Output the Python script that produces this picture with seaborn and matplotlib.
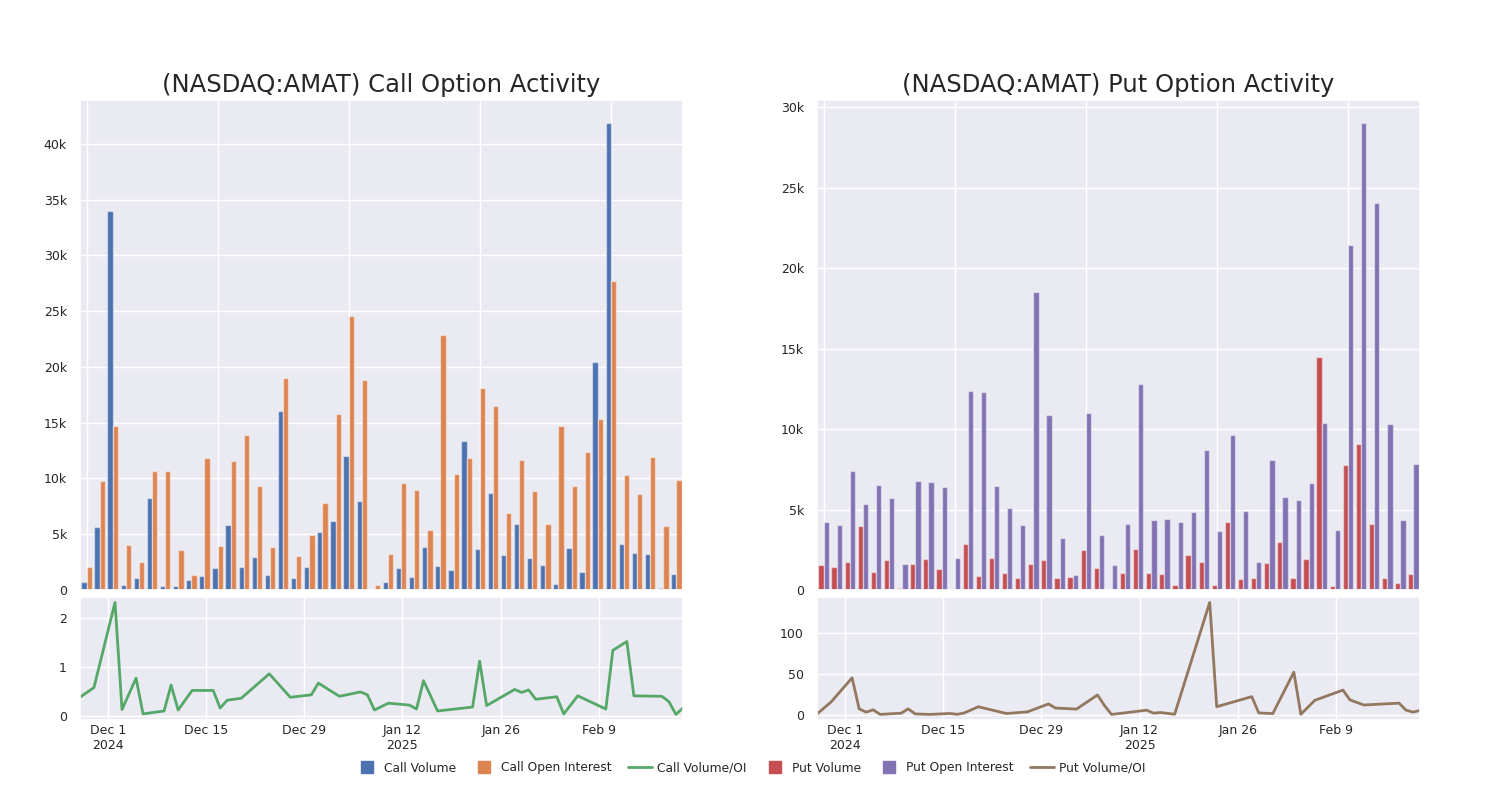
import matplotlib
matplotlib.use("Agg")
import matplotlib.pyplot as plt
from matplotlib.lines import Line2D
from matplotlib.ticker import FuncFormatter
import seaborn as sns
import pandas as pd

# trading days shown on both panels
dates = ["2024-11-27", "2024-11-29", "2024-12-02", "2024-12-03", "2024-12-04", "2024-12-05",
         "2024-12-06", "2024-12-09", "2024-12-10", "2024-12-11", "2024-12-13", "2024-12-16",
         "2024-12-17", "2024-12-18", "2024-12-20", "2024-12-24", "2024-12-27", "2024-12-30",
         "2024-12-31", "2025-01-03", "2025-01-06", "2025-01-07", "2025-01-08", "2025-01-10",
         "2025-01-13", "2025-01-14", "2025-01-15", "2025-01-17", "2025-01-22", "2025-01-23",
         "2025-01-24", "2025-01-28", "2025-01-29", "2025-01-30", "2025-01-31", "2025-02-03",
         "2025-02-04", "2025-02-06", "2025-02-10", "2025-02-11", "2025-02-13", "2025-02-14",
         "2025-02-18", "2025-02-19", "2025-02-20", "2025-02-21"]

call_volume = [720, 5630, 34000, 450, 1100, 8260, 330, 330, 870, 1230, 1980, 5870,
               2100, 2930, 1350, 16080, 1100, 2100, 5180, 6170, 11980, 7990, 55, 750,
               2000, 1200, 3860, 2160, 1800, 13350, 3650, 8650, 3170, 5900, 2870, 2250,
               510, 3740, 1650, 20450, 41830, 4160, 3290, 3230, 170, 1470]
call_oi = [2070, 9730, 14670, 4040, 2480, 10690, 10690, 3600, 1380, 11830, 3950, 11590,
           13920, 9340, 3830, 19040, 3050, 4970, 7840, 15750, 24600, 18860, 450, 3260,
           9580, 8950, 5360, 22900, 10360, 11860, 18110, 16500, 6920, 11680, 8860, 5960,
           14730, 9340, 12400, 15360, 27720, 10300, 8590, 11950, 5720, 9820]
call_ratio = [0.38, 0.58, 2.32, 0.13, 0.45, 0.77, 0.04, 0.10, 0.63, 0.12, 0.52, 0.52,
              0.16, 0.32, 0.36, 0.86, 0.38, 0.43, 0.67, 0.40, 0.49, 0.43, 0.12, 0.26,
              0.22, 0.14, 0.72, 0.10, 0.18, 1.12, 0.21, 0.54, 0.48, 0.53, 0.34, 0.39,
              0.04, 0.41, 0.14, 1.34, 1.52, 0.41, 0.40, 0.29, 0.03, 0.16]

put_volume = [1580, 1430, 1720, 3980, 1120, 1890, 100, 1600, 1950, 1330, 60, 2860,
              850, 1970, 1060, 730, 1640, 1890, 730, 830, 2510, 1390, 60, 1040,
              2550, 1080, 1000, 290, 2160, 1720, 290, 4250, 660, 770, 1660, 3000,
              730, 1910, 14500, 230, 7760, 9090, 4130, 730, 440, 980]
put_oi = [4210, 4020, 7390, 5330, 6510, 5710, 1640, 6780, 6700, 6430, 2010, 12390,
          12300, 6470, 5080, 4050, 18500, 10850, 3240, 950, 11020, 3440, 1580, 4090,
          12780, 4360, 4420, 4230, 4850, 8710, 3650, 9650, 4900, 1740, 8090, 5750,
          5600, 6660, 10370, 3730, 21450, 29000, 24070, 10330, 4360, 7840]
put_ratio = [0.8, 15.4, 45.0, 7.0, 3.0, 5.8, 0.2, 1.7, 7.0, 0.8, 0.2, 1.3,
             0.3, 2.0, 9.6, 1.3, 3.3, 13.0, 8.0, 6.7, 24.0, 11.0, 0.2, 2.2,
             5.4, 1.7, 2.5, 0.4, 137.5, 9.6, 12.1, 22.0, 2.0, 1.6, 1.2, 52.0,
             0.4, 17.5, 30.0, 18.0, 11.7, 12.2, 14.0, 5.4, 3.0, 5.0]

tick_dates = ["2024-12-01", "2024-12-15", "2024-12-29", "2025-01-12", "2025-01-26", "2025-02-09"]
tick_labels = ["Dec 1\n2024", "Dec 15", "Dec 29", "Jan 12\n2025", "Jan 26", "Feb 9"]

sns.set_theme(style="darkgrid")
deep = sns.color_palette("deep")
c_blue, c_orange, c_green, c_red, c_purple, c_brown = deep[0], deep[1], deep[2], deep[3], deep[4], deep[5]


def kfmt(v, pos):
    return "0" if v == 0 else f"{v / 1000:.0f}k"


def draw_panel(fig, left, title, vol, oi, ratio, names, bar_colors, line_color, ratio_ticks):
    ax_top = fig.add_axes([left, 0.2625, 0.402, 0.6125])
    ax_bot = fig.add_axes([left, 0.1, 0.402, 0.154])

    df = pd.DataFrame({"date": dates, names[0]: vol, names[1]: oi})
    long = df.melt(id_vars="date", var_name="series", value_name="value")
    sns.barplot(data=long, x="date", y="value", hue="series", palette=bar_colors,
                saturation=1, ax=ax_top, legend=False,
                edgecolor=(1, 1, 1, 0.45), linewidth=1.0)
    ax_top.set_xlim(-0.5, len(dates) - 0.5)
    ax_top.set_xticks(range(0, len(dates), 10))
    ax_top.set_xticklabels([])
    ax_top.grid(True, axis="x")
    ax_top.tick_params(axis="x", length=0)
    ax_top.set_xlabel("")
    ax_top.set_ylabel("")
    ax_top.yaxis.set_major_formatter(FuncFormatter(kfmt))
    ax_top.tick_params(axis="y", labelsize=9)
    ax_top.set_title(title, fontsize=17.5)

    x = pd.to_datetime(dates)
    sns.lineplot(x=x, y=ratio, ax=ax_bot, color=line_color, linewidth=2)
    ax_bot.set_xlim(x[0], x[-1])
    ax_bot.set_xticks(pd.to_datetime(tick_dates))
    ax_bot.set_xticklabels(tick_labels)
    ax_bot.set_yticks(ratio_ticks)
    ax_bot.tick_params(labelsize=9)
    ax_bot.tick_params(axis="x", pad=-3)
    ax_bot.set_xlabel("")
    ax_bot.set_ylabel("")


fig = plt.figure(figsize=(15, 8), dpi=100)
draw_panel(fig, 0.0533, "(NASDAQ:AMAT) Call Option Activity", call_volume, call_oi, call_ratio,
           ["Call Volume", "Call Open Interest"], [c_blue, c_orange], c_green, [0, 1, 2])
draw_panel(fig, 0.5447, "(NASDAQ:AMAT) Put Option Activity", put_volume, put_oi, put_ratio,
           ["Put Volume", "Put Open Interest"], [c_red, c_purple], c_brown, [0, 50, 100])

handles = [
    Line2D([], [], marker="s", linestyle="none", color=c_blue, markersize=8),
    Line2D([], [], marker="s", linestyle="none", color=c_orange, markersize=8),
    Line2D([], [], color=c_green, linewidth=2),
    Line2D([], [], marker="s", linestyle="none", color=c_red, markersize=8),
    Line2D([], [], marker="s", linestyle="none", color=c_purple, markersize=8),
    Line2D([], [], color=c_brown, linewidth=2),
]
labels = ["Call Volume", "Call Open Interest", "Call Volume/OI",
          "Put Volume", "Put Open Interest", "Put Volume/OI"]
fig.legend(handles, labels, loc="center", bbox_to_anchor=(0.5, 0.04), ncol=6,
           frameon=False, fontsize=8.8, handlelength=2, handletextpad=0.4,
           columnspacing=1.3)

fig.savefig("out.png", dpi=100)
